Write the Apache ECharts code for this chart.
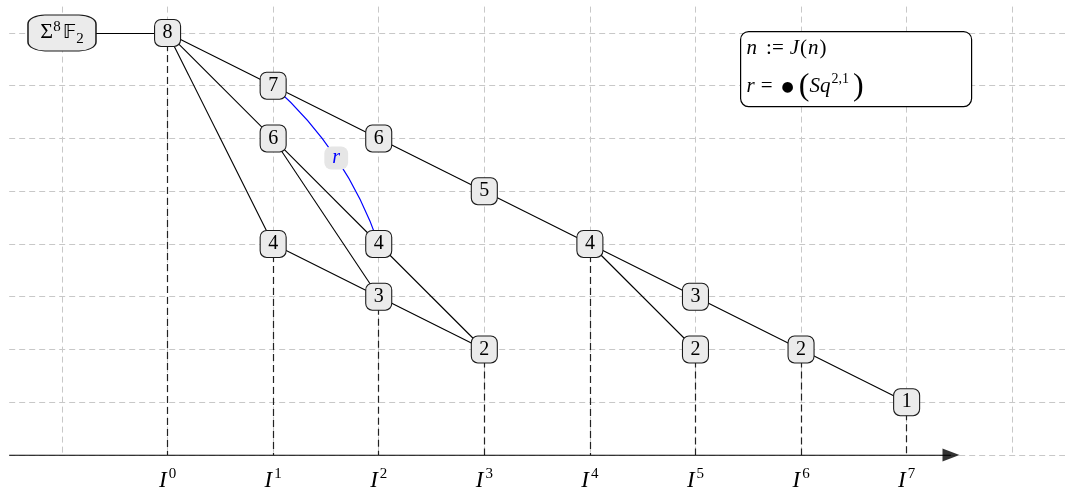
<!DOCTYPE html>
<html>
<head>
<meta charset="utf-8">
<script src="https://cdn.jsdelivr.net/npm/echarts@6/dist/echarts.min.js"></script>
<style>
  html, body { margin: 0; padding: 0; background: #fff; }
  #chart { width: 1065px; height: 493px; }
</style>
</head>
<body>
<div id="chart"></div>
<script>
// 节点：所在列 (I^k) 与度数
const nodeCol = [0, 1, 1, 1, 2, 2, 2, 3, 3, 4, 5, 5, 6, 7];
const nodeDeg = [8, 7, 6, 4, 6, 4, 3, 5, 2, 4, 3, 2, 2, 1];
// 黑色连线（节点下标）
const edgeList = [
  [0, 1], [0, 2], [0, 3],
  [1, 4], [4, 7], [7, 9], [9, 10], [10, 12], [12, 13],
  [2, 5], [2, 6], [3, 6], [5, 8], [6, 8], [9, 11]
];
// 蓝色曲线 r
const rEdge = [1, 5];
const rCurveness = 0.13;
// 起点 Σ^8 F_2
const sourcePos = [-1, 8];
// 横轴刻度 I^k
const columns = [0, 1, 2, 3, 4, 5, 6, 7];
const tickLabels = ['0', '1', '2', '3', '4', '5', '6', '7'];
const xRange = [-1.5, 8.5];
const yRange = [0, 8.5];
const arrowEnd = 7.42;

const serif = 'Liberation Serif';
const chart = echarts.init(document.getElementById('chart'));

const nodes = nodeCol.map((c, i) => ({
  name: 'n' + i,
  value: [c, nodeDeg[i]],
  label: { formatter: String(nodeDeg[i]) }
}));
nodes.push({
  name: 'src',
  value: sourcePos,
  symbolSize: [68, 36],
  label: {
    formatter: '{t|Σ}{sup|8}{bb|𝔽}{sub|2}',
    rich: {
      t: { fontFamily: serif, fontSize: 22, verticalAlign: 'bottom', lineHeight: 28, padding: [0, 0, 4, 0] },
      sup: { fontFamily: serif, fontSize: 15, verticalAlign: 'top', lineHeight: 15, padding: [1, 1, 0, 0] },
      bb: { fontFamily: 'DejaVu Sans', fontSize: 20, verticalAlign: 'bottom', lineHeight: 28, padding: [0, 0, 4, 1] },
      sub: { fontFamily: serif, fontSize: 15, verticalAlign: 'bottom', lineHeight: 15 }
    }
  }
});
const srcIndex = nodes.length - 1;

const links = edgeList.map(([s, t]) => ({ source: s, target: t }));
links.push({ source: srcIndex, target: 0 });
links.push({
  source: rEdge[0],
  target: rEdge[1],
  lineStyle: { color: '#0000ff', curveness: rCurveness }
});

// 每列最低节点向下的虚线
const dropLines = columns.map((c) => {
  const ys = nodeDeg.filter((d, i) => nodeCol[i] === c);
  return { coords: [[c, Math.min(...ys)], [c, 0]] };
});

const gridLine = { show: true, lineStyle: { color: '#c8c8c8', width: 1, type: [6, 4] } };

const option = {
  animation: false,
  grid: { left: 9.2, top: 6.6, width: 1058.6, height: 448.4 },
  xAxis: {
    type: 'value',
    min: xRange[0],
    max: xRange[1],
    splitNumber: 10,
    axisLine: { show: false },
    axisTick: { show: false },
    splitLine: Object.assign({ showMinLine: false, showMaxLine: false }, gridLine),
    axisLabel: {
      margin: 12,
      showMinLabel: false,
      showMaxLabel: false,
      formatter: (v) => {
        const k = columns.indexOf(v);
        return k < 0 ? '' : '{i|I}{s|' + tickLabels[k] + '}';
      },
      rich: {
        i: { fontFamily: serif, fontStyle: 'italic', fontSize: 23, color: '#000', verticalAlign: 'bottom', lineHeight: 25 },
        s: { fontFamily: serif, fontSize: 15, color: '#000', verticalAlign: 'top', lineHeight: 15, padding: [0, 0, 0, 2] }
      }
    }
  },
  yAxis: {
    type: 'value',
    min: yRange[0],
    max: yRange[1],
    splitNumber: 9,
    axisLine: { show: false },
    axisTick: { show: false },
    axisLabel: { show: false },
    splitLine: Object.assign({ showMinLine: true, showMaxLine: false }, gridLine)
  },
  graphic: [{
    id: 'legendBox',
    type: 'group',
    left: 740,
    top: 31,
    z: 10,
    children: [
      {
        type: 'rect',
        z: 10,
        shape: { x: 0, y: 0, width: 231, height: 75, r: 8 },
        style: { fill: '#fff', stroke: '#000', lineWidth: 1.2 }
      },
      {
        type: 'text',
        z: 11,
        x: 6,
        y: 17,
        style: {
          text: '{i|n}{o|:=}{i|J}{p|(}{i|n}{p|)}',
          fill: '#000',
          verticalAlign: 'middle',
          rich: {
            i: { fontFamily: serif, fontStyle: 'italic', fontSize: 21 },
            o: { fontFamily: serif, fontSize: 21, padding: [0, 6, 0, 9] },
            p: { fontFamily: serif, fontSize: 21, padding: [0, 1, 0, 1] }
          }
        }
      },
      {
        type: 'text',
        z: 11,
        x: 6,
        y: 55,
        style: {
          text: '{i|r}{o|=}{b|●}{p|(}{i|Sq}{s|2,1}{p|)}',
          fill: '#000',
          verticalAlign: 'middle',
          rich: {
            i: { fontFamily: serif, fontStyle: 'italic', fontSize: 21, verticalAlign: 'middle', lineHeight: 32 },
            o: { fontFamily: serif, fontSize: 21, verticalAlign: 'middle', lineHeight: 32, padding: [0, 4, 0, 6] },
            b: { fontFamily: 'DejaVu Sans', fontSize: 14, verticalAlign: 'middle', lineHeight: 32, padding: [2, 5, 0, 5] },
            p: { fontFamily: serif, fontSize: 32, verticalAlign: 'middle', lineHeight: 32 },
            s: { fontFamily: serif, fontSize: 14, verticalAlign: 'top', lineHeight: 14, padding: [2, 4, 0, 1] }
          }
        }
      }
    ]
  }],
  series: [
    {
      type: 'lines',
      coordinateSystem: 'cartesian2d',
      z: 2,
      silent: true,
      lineStyle: { color: '#222', width: 1.2, type: [7, 4], opacity: 1 },
      data: dropLines
    },
    {
      type: 'lines',
      coordinateSystem: 'cartesian2d',
      z: 2,
      silent: true,
      lineStyle: { color: '#000', width: 1.3, opacity: 1 },
      data: [{ coords: [[xRange[0], 0], [arrowEnd, 0]] }]
    },
    {
      type: 'scatter',
      z: 2,
      silent: true,
      symbol: 'triangle',
      symbolRotate: -90,
      symbolSize: [13, 17],
      itemStyle: { color: '#000' },
      data: [[arrowEnd, 0]]
    },
    {
      type: 'graph',
      coordinateSystem: 'cartesian2d',
      layout: 'none',
      z: 3,
      silent: true,
      symbol: 'roundRect',
      symbolSize: [26, 27],
      edgeSymbol: ['none', 'none'],
      itemStyle: { color: '#ebebeb', borderColor: '#1a1a1a', borderWidth: 1.1 },
      label: { show: true, position: 'inside', fontFamily: serif, fontSize: 20, color: '#000' },
      lineStyle: { color: '#000', width: 1.1, opacity: 1 },
      data: nodes,
      links: links
    }
  ]
};

chart.setOption(option);

// r 标签放在蓝色曲线中点（与 graph 的二次贝塞尔一致）
const p1 = chart.convertToPixel({ gridIndex: 0 }, [nodeCol[rEdge[0]], nodeDeg[rEdge[0]]]);
const p2 = chart.convertToPixel({ gridIndex: 0 }, [nodeCol[rEdge[1]], nodeDeg[rEdge[1]]]);
const cp = [
  (p1[0] + p2[0]) / 2 - (p1[1] - p2[1]) * rCurveness,
  (p1[1] + p2[1]) / 2 - (p2[0] - p1[0]) * rCurveness
];
const mid = [
  0.25 * p1[0] + 0.5 * cp[0] + 0.25 * p2[0],
  0.25 * p1[1] + 0.5 * cp[1] + 0.25 * p2[1]
];
chart.setOption({
  graphic: [{
    id: 'rLabel',
    type: 'text',
    x: mid[0],
    y: mid[1],
    z: 20,
    style: {
      text: 'r',
      fontFamily: serif,
      fontStyle: 'italic',
      fontSize: 20,
      fill: '#0000ff',
      align: 'center',
      verticalAlign: 'middle',
      backgroundColor: '#e6e6e6',
      borderRadius: 7,
      padding: [2, 8, 1, 8]
    }
  }]
});
</script>
</body>
</html>
